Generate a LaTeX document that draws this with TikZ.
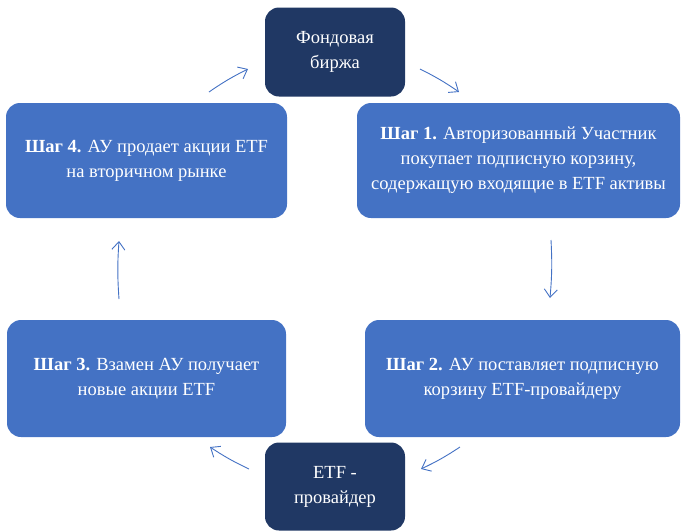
\documentclass[tikz,border=0pt]{standalone}
\usepackage{fontspec}
\setmainfont{Liberation Serif}
\usetikzlibrary{arrows.meta,positioning}
\definecolor{stepblue}{HTML}{4472C4}
\definecolor{darknavy}{HTML}{203864}
\tikzset{
    x=1pt,y=-1pt,
    box/.style ={rectangle, rounded corners=14pt, text=white, align=center, inner sep=0pt,
                 font=\fontsize{18.5}{25}\selectfont},
    stepbox/.style ={box, fill=stepblue},
    darkbox/.style ={box, fill=darknavy, minimum width=140pt},
    flow/.style = {-{Straight Barb[length=8pt,width=13pt]}, draw=stepblue, line width=0.9pt}
}
\begin{document}
\begin{tikzpicture}
    \useasboundingbox (0,0) rectangle (681,531);

    % dark boxes
    \node[darkbox, minimum height=89pt] (exchange) at (335,52) {Фондовая\\биржа};
    \node[darkbox, minimum height=88pt] (provider) at (335,486.5) {ETF -\\провайдер};

    % steps
    \node[stepbox, minimum width=323pt, minimum height=115pt] (step1) at (518.5,160.5)
        {\textbf{Шаг 1.} Авторизованный Участник\\покупает подписную корзину,\\содержащую входящие в ETF активы};
    \node[stepbox, minimum width=315pt, minimum height=117pt] (step2) at (522.5,378.5)
        {\textbf{Шаг 2.} АУ поставляет подписную\\корзину ETF-провайдеру};
    \node[stepbox, minimum width=279pt, minimum height=117pt] (step3) at (146.5,378.5)
        {\textbf{Шаг 3.} Взамен АУ получает\\новые акции ETF};
    \node[stepbox, minimum width=281pt, minimum height=115pt] (step4) at (146.5,160.5)
        {\textbf{Шаг 4.} АУ продает акции ETF\\на вторичном рынке};

    % arrow ends
    \coordinate (a41) at (209,92);   \coordinate (b41) at (248,69);
    \coordinate (a12) at (420,69);   \coordinate (b12) at (459,92);
    \coordinate (a23) at (551,240);  \coordinate (b23) at (550,298);
    \coordinate (a32) at (460,447);  \coordinate (b32) at (421,469);
    \coordinate (a34) at (249,469);  \coordinate (b34) at (210,447);
    \coordinate (a43) at (119,299);  \coordinate (b43) at (119,241);

    % cycle arrows
    \draw[flow] (a41) to[bend left=4] (b41);
    \draw[flow] (a12) to[bend left=4] (b12);
    \draw[flow] (a23) to[bend left=4] (b23);
    \draw[flow] (a32) to[bend left=4] (b32);
    \draw[flow] (a34) to[bend left=4] (b34);
    \draw[flow] (a43) to[bend left=4] (b43);
\end{tikzpicture}
\end{document}
